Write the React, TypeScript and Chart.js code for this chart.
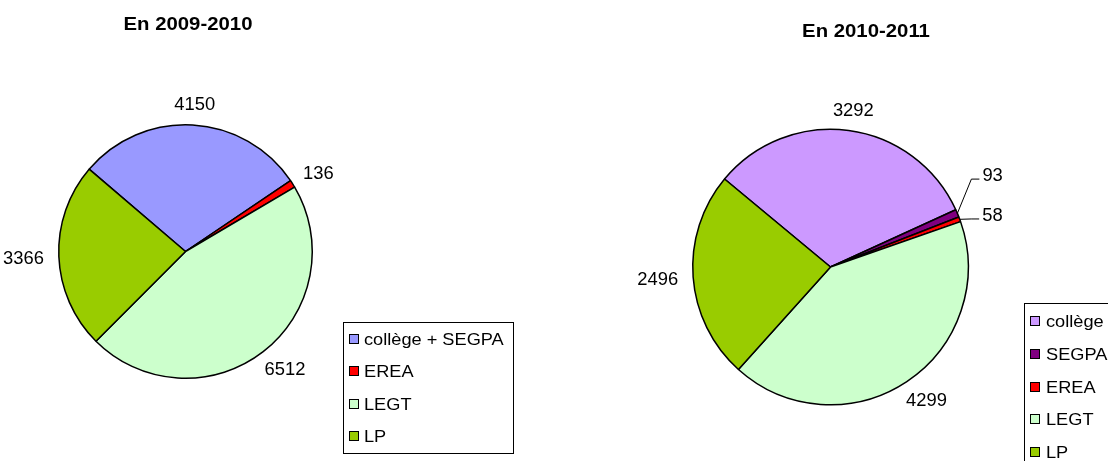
import React, { useEffect, useRef } from "react";
import { Chart, registerables } from "chart.js";

Chart.register(...registerables);

// ---- Data ----
const TITLE_A = "En 2009-2010";
const LABELS_A = ["collège + SEGPA", "EREA", "LEGT", "LP"];
const VALUES_A = [4150, 136, 6512, 3366];
const COLORS_A = ["#9999FF", "#FF0000", "#CCFFCC", "#99CC00"];

const TITLE_B = "En 2010-2011";
const LABELS_B = ["collège", "SEGPA", "EREA", "LEGT", "LP"];
const VALUES_B = [3292, 93, 58, 4299, 2496];
const COLORS_B = ["#CC99FF", "#800080", "#FF0000", "#CCFFCC", "#99CC00"];

const FONT = '"Liberation Sans", Arial, Helvetica, sans-serif';

function drawText(ctx: CanvasRenderingContext2D, text: string, x: number, y: number, font: string, sx: number, align: CanvasTextAlign) {
  ctx.save();
  ctx.font = font;
  ctx.fillStyle = "#000";
  ctx.textAlign = align;
  ctx.textBaseline = "alphabetic";
  ctx.translate(x, y);
  ctx.scale(sx, 1);
  ctx.fillText(text, 0, 0);
  ctx.restore();
}

const decorPlugin = {
  id: "excelDecor",
  afterDatasetsDraw(chart: any, _args: any, opts: any) {
    const ctx: CanvasRenderingContext2D = chart.ctx;
    const ds = chart.data.datasets[0];
    const labels: string[] = chart.data.labels;
    const meta = chart.getDatasetMeta(0);

    // Title
    if (opts.title) {
      drawText(ctx, opts.title.text, opts.title.x, opts.title.y, `bold 18px ${FONT}`, 1.13, "center");
    }

    // Value labels
    const numSize = 17.5;
    const numSx = 1.05;
    const numFont = `${numSize}px ${FONT}`;
    const cap = numSize * 0.716;
    const gap = opts.gap ?? 13;
    const nudges = opts.nudges || {};
    meta.data.forEach((arc: any, i: number) => {
      const p = arc.getProps(["x", "y", "startAngle", "endAngle", "outerRadius"], true);
      const mid = (p.startAngle + p.endAngle) / 2;
      const c = Math.cos(mid);
      const s = Math.sin(mid);
      const text = String(ds.data[i]);
      ctx.font = numFont;
      const w = ctx.measureText(text).width * numSx;
      const ax = p.x + (p.outerRadius + gap) * c;
      const ay = p.y + (p.outerRadius + gap) * s;
      let tx = ax + (w / 2) * c;
      let ty = ay + (cap / 2) * s;
      const n = nudges[i];
      if (n) {
        tx += n[0];
        ty += n[1];
        const left = tx - w / 2;
        ctx.save();
        ctx.strokeStyle = "#000";
        ctx.lineWidth = 1;
        ctx.beginPath();
        ctx.moveTo(p.x + p.outerRadius * c, p.y + p.outerRadius * s);
        ctx.lineTo(left - 11, ty + 4);
        ctx.lineTo(left - 3, ty + 4);
        ctx.stroke();
        ctx.restore();
      }
      drawText(ctx, text, tx, ty + cap / 2, numFont, numSx, "center");
    });

    // Legend
    const lg = opts.legend;
    if (lg) {
      ctx.save();
      ctx.strokeStyle = "#000";
      ctx.lineWidth = 1;
      ctx.strokeRect(lg.x + 0.5, lg.y + 0.5, lg.w, lg.h);
      ctx.restore();
      const lsize = 17;
      const lfont = `${lsize}px ${FONT}`;
      labels.forEach((lab, i) => {
        const cy = lg.y + lg.first + i * lg.step;
        const ms = 10;
        const mx = lg.x + lg.markerDx;
        const my = Math.round(cy - ms / 2);
        ctx.save();
        ctx.fillStyle = ds.backgroundColor[i];
        ctx.fillRect(mx, my, ms, ms);
        ctx.strokeStyle = "#000";
        ctx.lineWidth = 1;
        ctx.strokeRect(mx + 0.5, my + 0.5, ms - 1, ms - 1);
        ctx.restore();
        drawText(ctx, lab, lg.x + lg.textDx, cy + (lsize * 0.716) / 2, lfont, 1.07, "left");
      });
    }
  },
};

function makeConfig(labels: string[], values: number[], colors: string[], rotation: number, padding: any, decor: any) {
  return {
    type: "pie",
    data: {
      labels,
      datasets: [
        {
          data: values,
          backgroundColor: colors,
          borderColor: "#000",
          borderWidth: 1.5,
        },
      ],
    },
    options: {
      responsive: false,
      animation: false,
      devicePixelRatio: 1,
      rotation,
      layout: { padding },
      plugins: {
        legend: { display: false },
        tooltip: { enabled: false },
        title: { display: false },
        excelDecor: decor,
      },
    },
    plugins: [decorPlugin],
  } as any;
}

function PieCanvas({ config, left }: { config: any; left: number }) {
  const ref = useRef<HTMLCanvasElement | null>(null);
  useEffect(() => {
    if (!ref.current) return;
    const chart = new Chart(ref.current, config);
    return () => chart.destroy();
  }, [config]);
  return (
    <canvas
      ref={ref}
      width={554}
      height={461}
      style={{ position: "absolute", left, top: 0, width: 554, height: 461 }}
    />
  );
}

const CONFIG_A = makeConfig(
  LABELS_A,
  VALUES_A,
  COLORS_A,
  -49.5,
  { left: 58, top: 124, right: 241, bottom: 82 },
  {
    title: { text: TITLE_A, x: 188, y: 30 },
    gap: 15,
    legend: { x: 343, y: 322, w: 170, h: 131, first: 17, step: 32.4, markerDx: 6, textDx: 21 },
  }
);

const CONFIG_B = makeConfig(
  LABELS_B,
  VALUES_B,
  COLORS_B,
  -50.3,
  { left: 138, top: 128, right: 139, bottom: 55 },
  {
    title: { text: TITLE_B, x: 312, y: 37 },
    gap: 15,
    nudges: { 1: [12, -30], 2: [9, 3] },
    legend: { x: 470, y: 303, w: 170, h: 170, first: 18, step: 32.8, markerDx: 6, textDx: 22 },
  }
);

export default function App() {
  return (
    <div style={{ position: "fixed", left: 0, top: 0, width: 1108, height: 461, background: "#fff", overflow: "hidden" }}>
      <PieCanvas config={CONFIG_A} left={0} />
      <PieCanvas config={CONFIG_B} left={554} />
    </div>
  );
}
